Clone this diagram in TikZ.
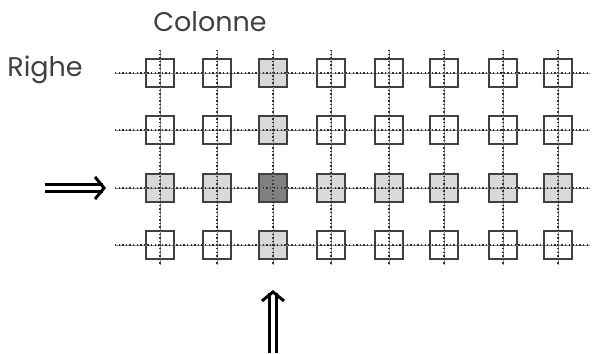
\documentclass[tikz,border=0pt]{standalone}
\usepackage{fontspec}
\setmainfont{Poppins}
\usetikzlibrary{arrows.meta}

\begin{document}
\begin{tikzpicture}[x=1pt,y=-1pt,
    every node/.style={font=\fontsize{27}{30}\selectfont,text=black!75},
    cell/.style={draw=black!75,line width=2.1pt,minimum size=28pt,inner sep=0pt},
    hit/.style={cell,fill=black!15},
    cross/.style={cell,fill=black!50},
    gridline/.style={black!45,line width=0.9pt},
    dotline/.style={black!80,line width=1.1pt,dash pattern=on 1.4pt off 2.2pt},
    bigarrow/.style={double,double distance=3.4pt,line width=3pt,
                     -{Straight Barb[length=9pt,width=22pt,line width=3pt]}},
  ]
  \useasboundingbox (0,0) rectangle (596,353);

  % matrice di celle
  \foreach \x [count=\i] in {160,217,273,331,389,444,503,558}{
    \foreach \y [count=\j] in {73,130,188,245}{
      \node[cell] (r\j c\i) at (\x,\y) {};
    }
  }
  \foreach \i in {1,2,4,5,6,7,8} \node[hit] at (r3c\i) {};
  \foreach \j in {1,2,4} \node[hit] at (r\j c3) {};
  \node[cross] at (r3c3) {};

  % linee di riga e di colonna
  \foreach \j in {1,...,4}{
    \draw[gridline] ([xshift=-45pt]r\j c1.center) -- ([xshift=32pt]r\j c8.center);
    \draw[dotline] ([xshift=-45pt]r\j c1.center) -- ([xshift=32pt]r\j c8.center);
  }
  \foreach \i in {1,...,8}{
    \draw[gridline] ([yshift=23pt]r1c\i.center) -- ([yshift=-20pt]r4c\i.center);
    \draw[dotline] ([yshift=23pt]r1c\i.center) -- ([yshift=-20pt]r4c\i.center);
  }

  % etichette
  \node (colonne) at (210,22) {Colonne};
  \node (righe) at (45,70) {Righe};

  % frecce di selezione
  \coordinate (rowtail) at (45,188);
  \coordinate (rowtip) at ([xshift=-54pt]r3c1.center);
  \coordinate (coltail) at (273,353);
  \coordinate (coltip) at ([yshift=-45pt]r4c3.center);
  \draw[bigarrow] (rowtail) -- (rowtip);
  \draw[bigarrow] (coltail) -- (coltip);
\end{tikzpicture}
\end{document}
